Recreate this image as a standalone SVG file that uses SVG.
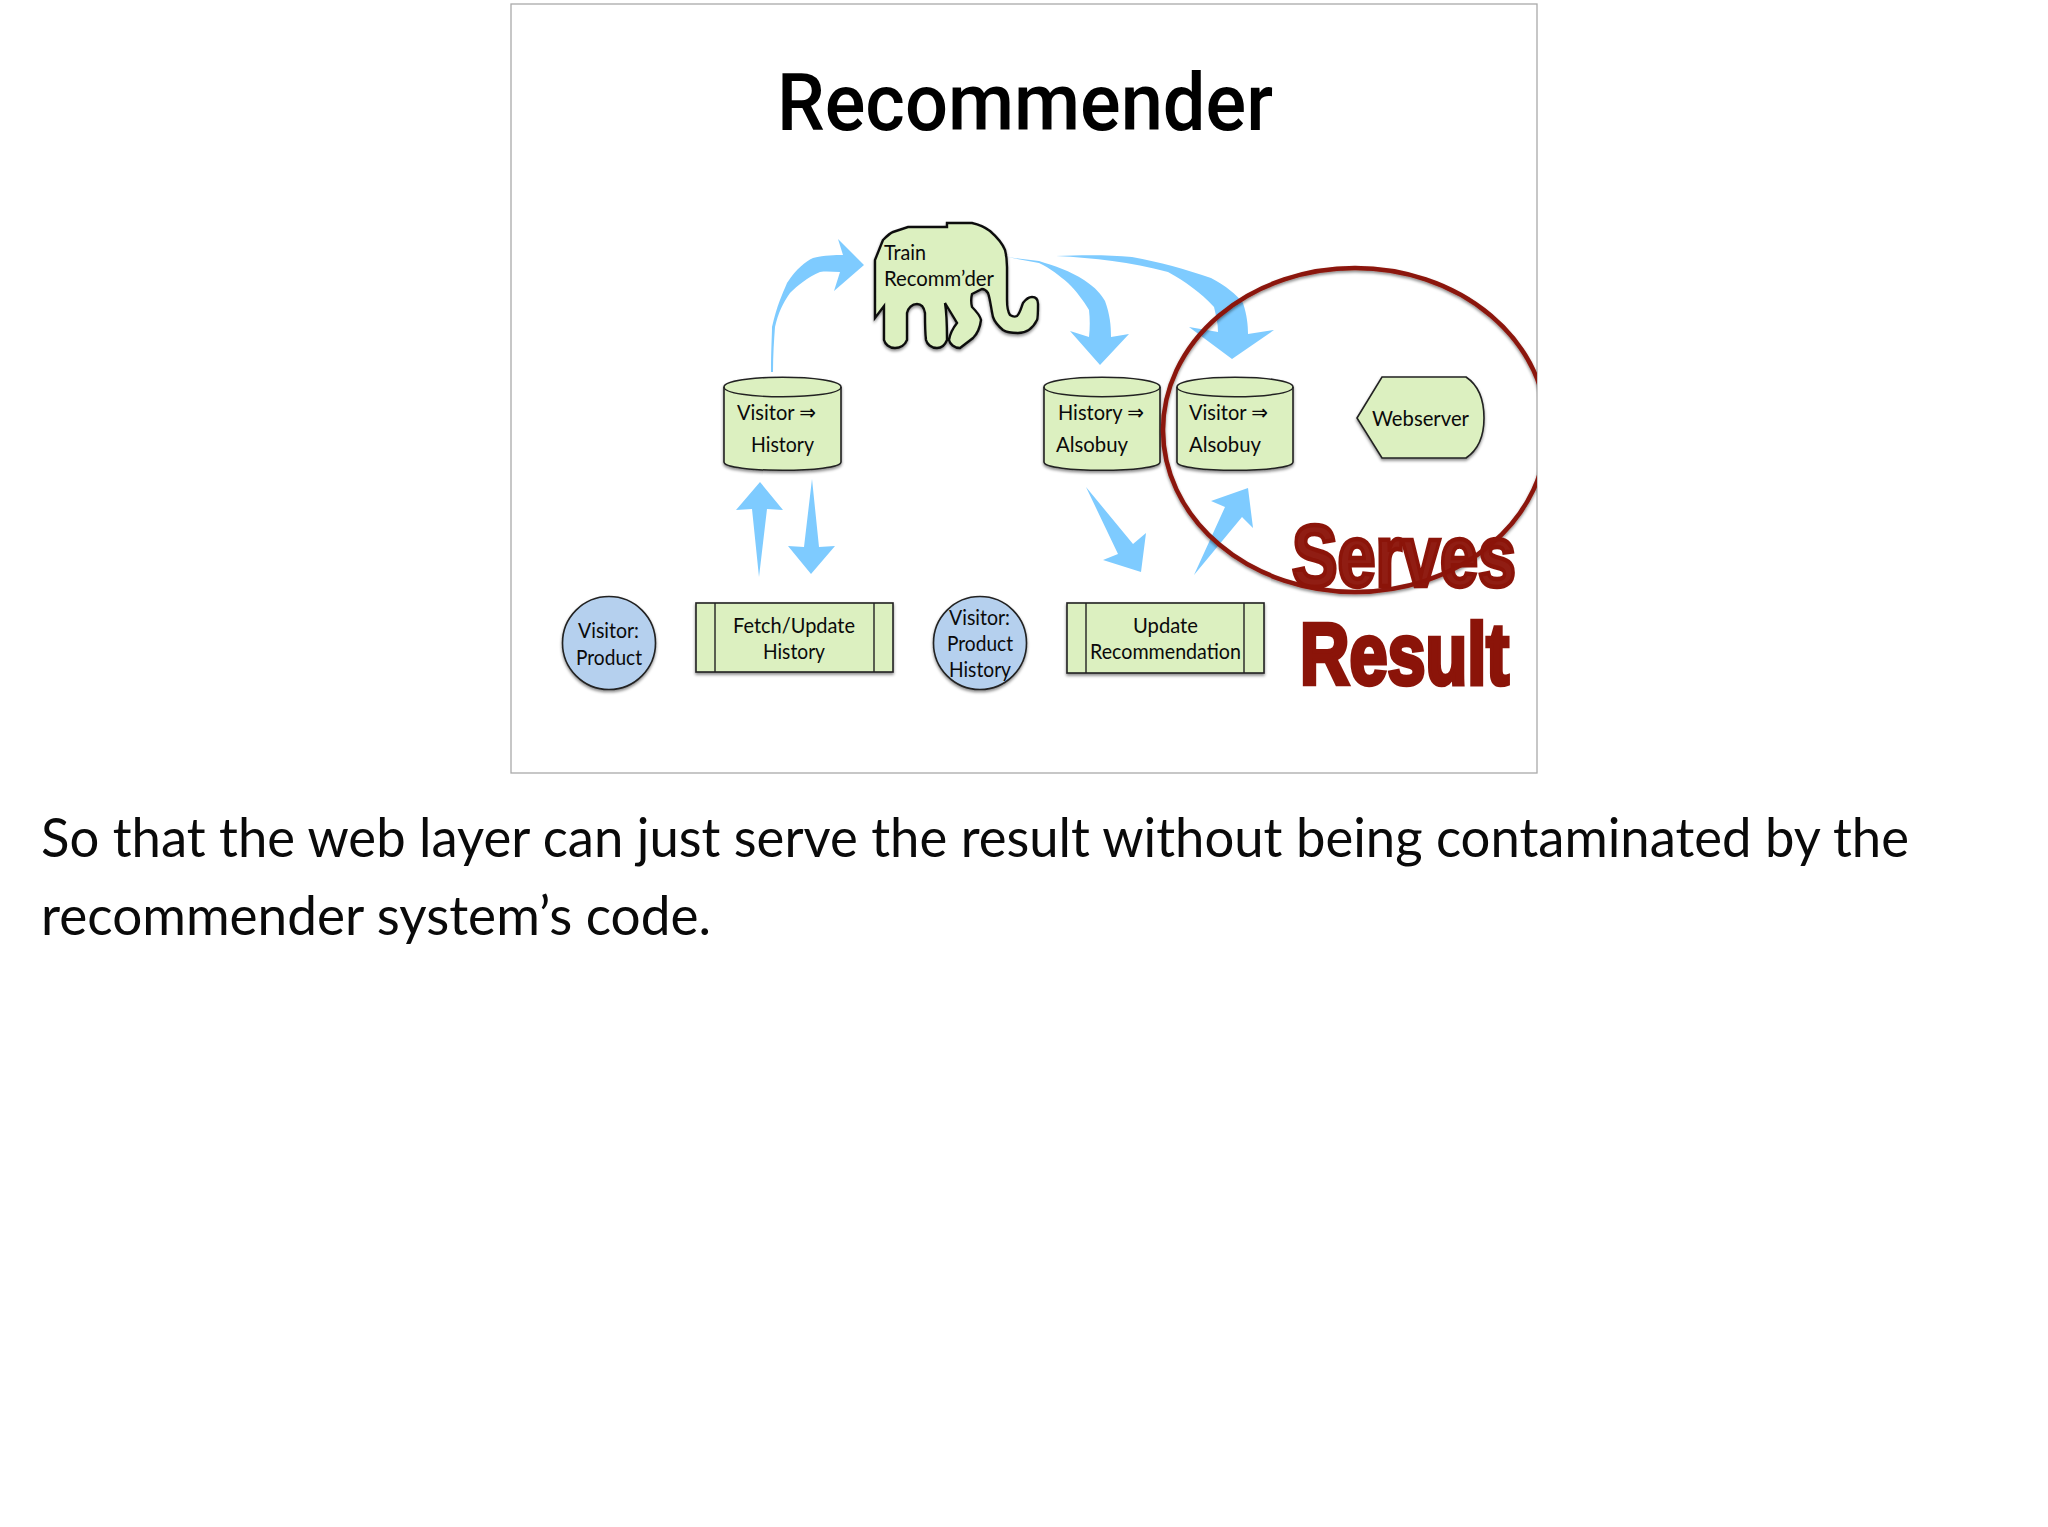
<svg xmlns="http://www.w3.org/2000/svg" width="2048" height="1527" viewBox="0 0 2048 1527">
<style>
.n{fill:#dcf0c0;stroke:#222;stroke-width:1.6;filter:url(#sh)}
.e{stroke:#111;stroke-width:2.4}
.l{fill:none;stroke:#222;stroke-width:1.4}
.c{fill:#b5d0ee;stroke:#222;stroke-width:1.6;filter:url(#sh)}
.a{fill:#7ecbff;stroke:none}
.t{font-family:"Lato","DejaVu Sans",sans-serif;font-size:22px;fill:#0a0a0a}
.b{font-family:"Lato","Noto Sans",sans-serif;font-size:54px;fill:#0a0a0a}
.s{font-family:"Liberation Sans Narrow","Liberation Sans",sans-serif;font-weight:700;font-size:88px;fill:#8b1409;stroke:#8b1409;stroke-width:4.5}
</style>
<defs>
<filter id="sh" x="-10%" y="-10%" width="120%" height="125%"><feDropShadow dx="0" dy="2" stdDeviation="1.5" flood-color="#000" flood-opacity=".45"/></filter>
<clipPath id="slide"><rect x="511" y="4" width="1026" height="769"/></clipPath>
</defs>
<rect width="2048" height="1527" fill="#fff"/>
<rect id="frame" x="511" y="4" width="1026" height="769" fill="#fff" stroke="#aaa" stroke-width="1.3"/>
<text id="title" x="777" y="130" textLength="496" lengthAdjust="spacingAndGlyphs" style="font-family:'Roboto',sans-serif;font-weight:500;font-size:80px;fill:#000">Recommender</text>
<g id="connectors">
<path class="a" d="M771 372C771 350 772 335 772 327C777 305 782 295 787 283C797 268 805 262 813 258C825 255 835 255 843 255L838 239L864 265L834 291L840 272C833 272 827 271 820 272C808 277 798 285 790 293C783 303 778 313 775 327C774 340 773 355 773 372Z"/>
<path class="a" d="M760 482L783 510L767 509L759 577L752 509L736 510Z"/>
<path class="a" d="M812 479L819 547L835 546L811 574L788 546L804 547Z"/>
<path class="a" d="M1007 257L1039 261C1055 266 1070 271 1084 280C1096 288 1101 294 1105 301C1110 315 1111 325 1111 337L1129 334L1100 365L1070 331L1089 337C1090 328 1090 319 1089 310C1083 300 1077 292 1068 283C1060 276 1050 268 1039 263Z"/>
<path class="a" d="M1056 256C1085 255 1110 255 1132 257C1160 262 1185 269 1211 278C1226 286 1236 294 1243 303C1247 315 1248 325 1248 334L1274 330L1232 359L1189 327L1218 332C1218 324 1216 315 1214 307C1200 292 1186 282 1168 272C1130 262 1095 258 1056 256Z"/>
<path class="a" d="M1086 487L1133 544L1146 533L1141 572L1103 560L1118 554Z"/>
<path class="a" d="M1194 575L1242 517L1253 528L1248 488L1211 501L1225 507Z"/>
</g>
<g id="train">
<path class="n e" d="M875 318V260L883 240C887 236 890 233 893 232L908 227H947V223H972C981 225 986 228 990 231C998 238 1003 245 1005 250C1007 258 1007 262 1007 267V300C1007 308 1008 312 1010 315C1013 317 1015 317 1017 316C1020 313 1021 308 1023 303C1026 299 1029 297 1032 297C1036 297 1038 300 1038 304C1038 312 1038 318 1037 320C1033 328 1026 333 1018 333C1010 333 1006 332 1003 330C997 325 994 320 993 317C991 308 990 298 988 293C986 290 984 289 982 289L972 294C971 298 971 303 972 307C976 311 980 315 981 320C980 328 977 334 973 338L960 348C954 348 950 344 949 340C950 334 953 328 957 323L945 303C947 315 947 328 947 340C945 345 941 348 937 348C931 348 927 344 926 340C925 332 925 322 925 313C924 307 921 304 917 304C912 304 908 308 907 313V340C905 345 900 348 895 348C889 348 885 344 884 340V306Z"/>
<text class="t" x="884" y="260" textLength="42" lengthAdjust="spacingAndGlyphs">Train</text>
<text class="t" x="884" y="286" textLength="110" lengthAdjust="spacingAndGlyphs">Recomm’der</text>
</g>
<g id="store-visitor-history">
<path class="n" d="M724 387C724 374 841 374 841 387V462C841 473 724 473 724 462Z"/>
<path class="l" d="M724 387C724 400 841 400 841 387"/>
<text class="t" x="737" y="420" textLength="79" lengthAdjust="spacingAndGlyphs">Visitor ⇒</text>
<text class="t" x="751" y="452" textLength="63" lengthAdjust="spacingAndGlyphs">History</text>
</g>
<g id="store-history-alsobuy">
<path class="n" d="M1044 387C1044 374 1160 374 1160 387V462C1160 473 1044 473 1044 462Z"/>
<path class="l" d="M1044 387C1044 400 1160 400 1160 387"/>
<text class="t" x="1058" y="420" textLength="86" lengthAdjust="spacingAndGlyphs">History ⇒</text>
<text class="t" x="1056" y="452" textLength="72" lengthAdjust="spacingAndGlyphs">Alsobuy</text>
</g>
<g id="store-visitor-alsobuy">
<path class="n" d="M1177 387C1177 374 1293 374 1293 387V462C1293 473 1177 473 1177 462Z"/>
<path class="l" d="M1177 387C1177 400 1293 400 1293 387"/>
<text class="t" x="1189" y="420" textLength="79" lengthAdjust="spacingAndGlyphs">Visitor ⇒</text>
<text class="t" x="1189" y="452" textLength="72" lengthAdjust="spacingAndGlyphs">Alsobuy</text>
</g>
<g id="webserver">
<path class="n" d="M1357 418L1382 377H1466C1478 385 1484 400 1484 418C1484 436 1478 450 1466 458H1382Z"/>
<text class="t" x="1372" y="426" textLength="97" lengthAdjust="spacingAndGlyphs">Webserver</text>
</g>
<g id="visitor-product">
<circle class="c" cx="609" cy="643" r="46.5"/>
<text class="t" x="578" y="638" textLength="61" lengthAdjust="spacingAndGlyphs">Visitor:</text>
<text class="t" x="576" y="665" textLength="66" lengthAdjust="spacingAndGlyphs">Product</text>
</g>
<g id="fetch-update">
<rect class="n" x="696" y="603" width="197" height="69"/>
<path class="l" d="M715 603V672M874 603V672"/>
<text class="t" x="733" y="633" textLength="122" lengthAdjust="spacingAndGlyphs">Fetch/Update</text>
<text class="t" x="763" y="659" textLength="62" lengthAdjust="spacingAndGlyphs">History</text>
</g>
<g id="visitor-product-history">
<circle class="c" cx="980" cy="643" r="46.5"/>
<text class="t" x="949" y="625" textLength="61" lengthAdjust="spacingAndGlyphs">Visitor:</text>
<text class="t" x="947" y="651" textLength="66" lengthAdjust="spacingAndGlyphs">Product</text>
<text class="t" x="949" y="677" textLength="62" lengthAdjust="spacingAndGlyphs">History</text>
</g>
<g id="update-recommendation">
<rect class="n" x="1067" y="603" width="197" height="70"/>
<path class="l" d="M1086 603V673M1244 603V673"/>
<text class="t" x="1133" y="633" textLength="65" lengthAdjust="spacingAndGlyphs">Update</text>
<text class="t" x="1090" y="659" textLength="151" lengthAdjust="spacingAndGlyphs">Recommendation</text>
</g>
<g id="highlight">
<ellipse cx="1355" cy="430" rx="192" ry="162" fill="none" stroke="#8b1409" stroke-width="4.5" clip-path="url(#slide)" filter="url(#sh)"/>
<text class="s" x="1292" y="586" textLength="224" lengthAdjust="spacingAndGlyphs" fill-opacity=".96">Serves</text>
<text class="s" x="1300" y="684" textLength="209" lengthAdjust="spacingAndGlyphs">Result</text>
</g>
<text class="b" x="41" y="857" textLength="1868" lengthAdjust="spacingAndGlyphs">So that the web layer can just serve the result without being contaminated by the</text>
<text class="b" x="41" y="935" textLength="670" lengthAdjust="spacingAndGlyphs">recommender system’s code.</text>
</svg>
